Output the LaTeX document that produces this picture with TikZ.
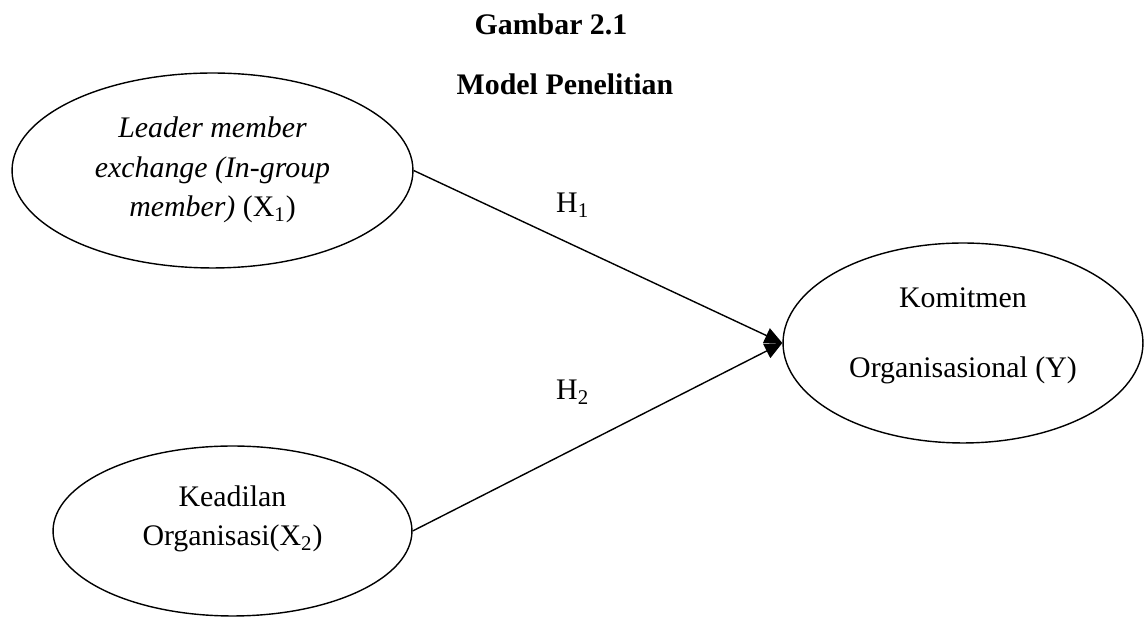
\documentclass[tikz,border=0pt]{standalone}
\usepackage{fontspec}
\setmainfont{Liberation Serif}
\usepackage{tikz}
\usetikzlibrary{shapes.geometric}
\usetikzlibrary{arrows.meta}

\begin{document}
\begin{tikzpicture}[x=0.02cm, y=-0.02cm,
        font=\fontsize{17}{22.4}\selectfont,
        var/.style={draw, ellipse, line width=0.8pt, inner sep=0pt},
        txt/.style={align=center, inner sep=0pt},
        hyp/.style={line width=0.8pt, -{Triangle[length=10pt, width=9pt]}}]
        \useasboundingbox (0,0) rectangle (1144,617);
        % judul
        \node[anchor=base] (judul) at (551,35) {\bfseries Gambar 2.1};
        \node[anchor=base] (model) at (565,95) {\bfseries Model Penelitian};
        % variabel
        \node[var, minimum width=8.02cm, minimum height=3.9cm] (x1) at (212.5,170.5) {};
        \node[var, minimum width=7.18cm, minimum height=3.4cm] (x2) at (232.5,531) {};
        \node[var, minimum width=7.2cm, minimum height=4cm] (y) at (963,343) {};
        \node[txt] (tx1) at (212.5,170) {\itshape Leader member\\ \itshape exchange (In-group\\ \itshape member) \upshape(X\textsubscript{1})};
        \node[txt] (tx2) at (232.5,519) {Keadilan\\ Organisasi(X\textsubscript{2})};
        \node[txt] (ty) at (963,336) {Komitmen\\[17.6pt] Organisasional (Y)};
        % hipotesis
        \draw[hyp] (x1.east) -- (y.west);
        \draw[hyp] (x2.east) -- (y.west);
        \node[anchor=base west] (h1) at (550,213) {H\textsubscript{1}};
        \node[anchor=base west] (h2) at (550,400) {H\textsubscript{2}};
    \end{tikzpicture}
\end{document}
